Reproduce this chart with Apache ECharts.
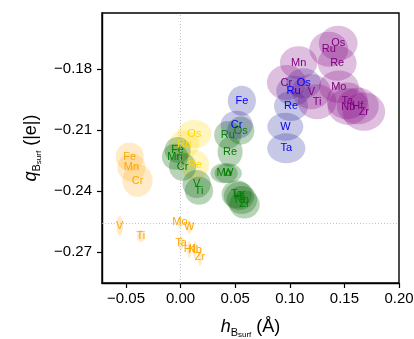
<!DOCTYPE html>
<html>
<head>
<meta charset="utf-8">
<script src="https://cdn.jsdelivr.net/npm/echarts@6/dist/echarts.min.js"></script>
<style>
  html, body { margin: 0; padding: 0; background: #fff; }
  #chart { width: 414px; height: 339px; }
</style>
</head>
<body>
<div id="chart"></div>
<script>
// each row: [element, h (Å), q (|e|), spread in h, spread in q]
const orangeSet = [
  ['Fe', -0.0466, -0.2231, 0.0129, 0.0069],
  ['Mn', -0.0450, -0.2284, 0.0129, 0.0069],
  ['Cr', -0.0395, -0.2349, 0.0138, 0.0079],
  ['V', -0.0558, -0.2572, 0.0030, 0.0049],
  ['Ti', -0.0365, -0.2621, 0.0035, 0.0030],
  ['Mo', -0.0006, -0.2554, 0.0025, 0.0030],
  ['W', 0.0079, -0.2576, 0.0025, 0.0035],
  ['Ta', 0.0003, -0.2657, 0.0025, 0.0035],
  ['Hf', 0.0079, -0.2687, 0.0020, 0.0042],
  ['Nb', 0.0131, -0.2690, 0.0020, 0.0042],
  ['Zr', 0.0177, -0.2726, 0.0020, 0.0042]
]
const goldSet = [
  ['Os', 0.0125, -0.2120, 0.0156, 0.0069],
  ['Ru', 0.0033, -0.2170, 0.0138, 0.0069],
  ['Re', 0.0131, -0.2272, 0.0129, 0.0074]
]
const greenSet = [
  ['Fe', -0.0028, -0.2198, 0.0120, 0.0064],
  ['Mn', -0.0052, -0.2231, 0.0120, 0.0064],
  ['Cr', 0.0018, -0.2281, 0.0125, 0.0069],
  ['V', 0.0147, -0.2366, 0.0130, 0.0069],
  ['Ti', 0.0168, -0.2399, 0.0130, 0.0069],
  ['Ru', 0.0432, -0.2125, 0.0125, 0.0069],
  ['Os', 0.0551, -0.2103, 0.0125, 0.0069],
  ['Re', 0.0453, -0.2207, 0.0115, 0.0074],
  ['Mo', 0.0398, -0.2313, 0.0125, 0.0049],
  ['W', 0.0435, -0.2313, 0.0125, 0.0049],
  ['Ta', 0.0515, -0.2416, 0.0140, 0.0069],
  ['Hf', 0.0536, -0.2425, 0.0140, 0.0069],
  ['Nb', 0.0561, -0.2444, 0.0140, 0.0069],
  ['Zr', 0.0585, -0.2466, 0.0140, 0.0069]
]
const blueSet = [
  ['Fe', 0.0561, -0.1956, 0.0129, 0.0074],
  ['Cr', 0.0513, -0.2075, 0.0147, 0.0069],
  ['Os', 0.1127, -0.1870, 0.0160, 0.0074],
  ['Ru', 0.1035, -0.1907, 0.0160, 0.0074],
  ['Re', 0.1011, -0.1982, 0.0156, 0.0074],
  ['W', 0.0959, -0.2084, 0.0165, 0.0069],
  ['Ta', 0.0968, -0.2190, 0.0175, 0.0074]
]
const purpleSet = [
  ['Os', 0.1443, -0.1674, 0.0178, 0.0086],
  ['Ru', 0.1357, -0.1703, 0.0178, 0.0086],
  ['Re', 0.1434, -0.1772, 0.0178, 0.0086],
  ['Mn', 0.1081, -0.1769, 0.0172, 0.0080],
  ['Cr', 0.0968, -0.1867, 0.0178, 0.0086],
  ['V', 0.1198, -0.1912, 0.0178, 0.0086],
  ['Ti', 0.1250, -0.1961, 0.0178, 0.0086],
  ['Mo', 0.1449, -0.1887, 0.0183, 0.0080],
  ['Ta', 0.1526, -0.1957, 0.0188, 0.0090],
  ['Nb', 0.1535, -0.1985, 0.0188, 0.0090],
  ['Hf', 0.1623, -0.1982, 0.0192, 0.0090],
  ['Zr', 0.1678, -0.2010, 0.0195, 0.0094]
]
const xTicks = [-0.05, 0, 0.05, 0.1, 0.15, 0.2]
const yTicks = [-0.27, -0.24, -0.21, -0.18]
const refX = 0
const refY = -0.256

const groups = [
  { rows: orangeSet, fill: 'rgba(255,165,0,0.22)', text: '#ffa500' },
  { rows: goldSet, fill: 'rgba(255,215,0,0.25)', text: '#ffd700' },
  { rows: greenSet, fill: 'rgba(0,100,0,0.28)', text: '#008000' },
  { rows: blueSet, fill: 'rgba(0,0,139,0.22)', text: '#0000ff' },
  { rows: purpleSet, fill: 'rgba(128,0,128,0.25)', text: '#800080' }
]

const fmt = (v) => (v < 0 ? '\u2212' : '') + Math.abs(v).toFixed(2)
const font = 'Liberation Sans, Arial, sans-serif'

const series = [{
  type: 'line',
  data: [],
  z: 1,
  markLine: {
    silent: true,
    symbol: 'none',
    precision: 4,
    label: { show: false },
    lineStyle: { color: '#b5b5b5', type: [1, 2], width: 0.8 },
    data: [{ xAxis: refX }, { yAxis: refY }]
  }
}]

// ellipses first, then all the element labels on top
groups.forEach((g) => {
  const data = g.rows.map((r) => ({ name: r[0], value: r.slice(1) }))
  series.push({
    type: 'custom',
    z: 2,
    data,
    encode: { x: 0, y: 1 },
    renderItem: (params, api) => {
      const c = api.coord([api.value(0), api.value(1)])
      const s = api.size([api.value(2), api.value(3)])
      return {
        type: 'ellipse',
        shape: { cx: c[0], cy: c[1], rx: s[0], ry: s[1] },
        style: { fill: g.fill }
      }
    }
  })
})

groups.forEach((g) => {
  const data = g.rows.map((r) => ({ name: r[0], value: r.slice(1, 3) }))
  series.push({
    type: 'custom',
    z: 3,
    data,
    encode: { x: 0, y: 1 },
    renderItem: (params, api) => {
      const c = api.coord([api.value(0), api.value(1)])
      return {
        type: 'text',
        x: c[0],
        y: c[1],
        style: {
          text: g.rows[params.dataIndex][0],
          fill: g.text,
          font: '11px ' + font,
          align: 'center',
          verticalAlign: 'middle'
        }
      }
    }
  })
})

const titleRich = {
  i: { fontSize: 18, fontStyle: 'italic', verticalAlign: 'top', fontFamily: font, color: '#000' },
  s: { fontSize: 11, verticalAlign: 'top', padding: [9, 0, 0, 0], fontFamily: font, color: '#000' },
  ss: { fontSize: 8, verticalAlign: 'top', padding: [13, 0, 0, 0], fontFamily: font, color: '#000' },
  n: { fontSize: 18, verticalAlign: 'top', fontFamily: font, color: '#000' }
}

const option = {
  animation: false,
  grid: {
    left: 102,
    right: 15,
    top: 13,
    bottom: 56,
    containLabel: false,
    outerBoundsMode: 'none',
    show: true,
    borderColor: '#000',
    borderWidth: 1.4
  },
  xAxis: {
    type: 'value',
    min: -0.072,
    max: 0.2,
    name: '{i|h}{s|B}{ss|surf}{n| (Å)}',
    nameLocation: 'middle',
    nameGap: 35,
    nameTextStyle: { rich: titleRich },
    axisLine: { onZero: false, lineStyle: { color: '#000', width: 1.4 } },
    axisTick: { customValues: xTicks, length: 5, lineStyle: { color: '#000', width: 1.2 } },
    axisLabel: { customValues: xTicks, formatter: fmt, color: '#000', fontSize: 15, fontFamily: font, margin: 8 },
    splitLine: { show: false }
  },
  yAxis: {
    type: 'value',
    min: -0.2852,
    max: -0.1525,
    name: '{i|q}{s|B}{ss|surf}{n| (|e|)}',
    nameLocation: 'middle',
    nameRotate: 90,
    nameGap: 59,
    nameTextStyle: { rich: titleRich },
    axisLine: { onZero: false, lineStyle: { color: '#000', width: 1.4 } },
    axisTick: { customValues: yTicks, length: 5, lineStyle: { color: '#000', width: 1.2 } },
    axisLabel: { customValues: yTicks, formatter: fmt, color: '#000', fontSize: 15, fontFamily: font, margin: 10 },
    splitLine: { show: false }
  },
  series
}

const myChart = echarts.init(document.getElementById('chart'), null, { renderer: 'canvas' })
myChart.setOption(option)
</script>
</body>
</html>
